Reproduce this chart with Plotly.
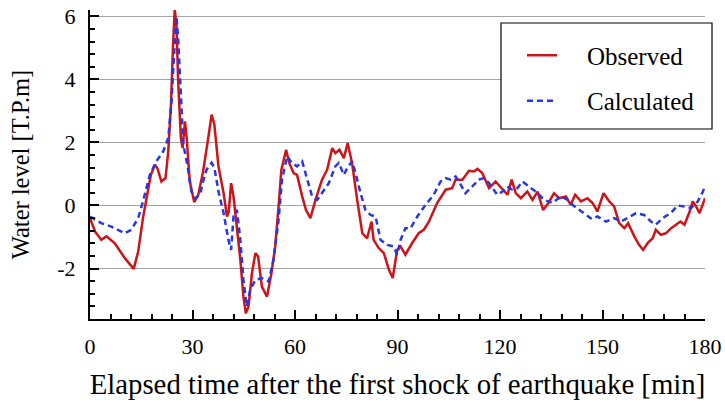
import plotly.graph_objects as go

# ---- data ----
obs_t = [0, 1.5, 3.3, 4.8, 7.2, 10.2, 12.8, 14.1, 15.5, 17.0, 17.8, 19.0, 19.7, 20.9, 22.1, 22.9,
         23.7, 24.3, 24.8, 25.3, 25.8, 26.6, 27.1, 27.8, 28.3, 29.2, 30.5, 31.7, 33.1, 34.6, 35.6,
         36.4, 37.6, 39.1, 40.1, 40.6, 41.3, 42.0, 43.0, 44.0, 44.9, 45.6, 46.4, 47.4, 48.4, 49.2,
         50.3, 51.8, 53.1, 54.2, 55.2, 56.0, 57.4, 58.3, 59.6, 60.6, 62.1, 63.2, 64.5, 66.0, 67.9,
         69.4, 70.9, 71.8, 73.0, 74.3, 75.4, 76.7, 78.2, 79.7, 81.1, 82.4, 83.0, 84.5, 86.0, 87.5,
         88.6, 89.9, 90.9, 92.3, 94.3, 96.2, 97.7, 99.2, 101.6, 104.1, 106.0, 107.0, 109.0, 110.9,
         112.4, 113.4, 114.8, 116.8, 118.7, 120.7, 122.2, 123.4, 124.6, 126.1, 128.0, 129.5, 131.0,
         132.6, 134.2, 135.8, 137.3, 139.3, 140.7, 142.0, 143.7, 145.6, 147.1, 148.5, 150.3, 152.0,
         153.4, 154.9, 156.4, 157.5, 159.3, 160.7, 161.9, 163.2, 164.7, 165.6, 167.1, 168.6, 170.1,
         171.5, 172.8, 174.0, 175.5, 176.4, 177.4, 178.4, 179.4, 180.0]
obs_v = [-0.4, -0.83, -1.09, -0.98, -1.19, -1.67, -2.01, -1.46, -0.4, 0.44, 0.97, 1.29, 1.19, 0.76, 0.87, 1.71,
         3.2, 5.1, 6.21, 5.74, 3.94, 2.14, 1.82, 2.67, 2.14, 0.76, 0.11, 0.34, 1.08, 2.14, 2.88,
         2.56, 1.24, 0.39, -0.35, -0.2, 0.71, 0.29, -0.67, -1.72, -2.89, -3.42, -3.2, -2.15, -1.51, -1.62,
         -2.57, -2.89, -2.15, -1.3, -0.03, 1.13, 1.77, 1.35, 1.03, 0.97, 0.29, -0.14, -0.4, 0.18, 0.82,
         1.13, 1.82, 1.66, 1.77, 1.5, 1.98, 1.35, 0.18, -0.88, -1.04, -0.51, -1.09, -1.35, -1.51, -2.04,
         -2.3, -1.41, -1.3, -1.56, -1.19, -0.88, -0.77, -0.51, 0.08, 0.5, 0.55, 0.82, 0.82, 1.1,
         1.08, 1.16, 1.03, 0.55, 0.76, 0.5, 0.34, 0.82, 0.39, 0.23, 0.44, 0.18, 0.44,
         -0.14, 0.08, 0.39, 0.23, 0.29, 0.02, 0.34, 0.13, 0.23, 0.08, -0.19, 0.39, 0.13,
         -0.03, -0.56, -0.72, -0.56, -0.98, -1.25, -1.41, -1.19, -1.04, -0.77, -0.93, -0.88, -0.72,
         -0.61, -0.51, -0.61, -0.19, 0.13, -0.03, -0.24, 0.02, 0.23]

calc_t = [0, 3.3, 6.2, 10.2, 12.1, 14.1, 15.5, 17.5, 19.4, 21.4, 22.9, 23.8, 24.6, 25.3, 25.8, 26.6,
          27.3, 28.5, 29.7, 30.7, 32.2, 33.1, 34.1, 35.6, 36.4, 37.7, 39.1, 40.5, 41.3, 42.0, 43.0,
          44.0, 44.9, 45.9, 46.9, 48.4, 50.3, 52.3, 53.7, 55.2, 56.2, 57.7, 59.1, 60.6, 62.1, 63.6,
          65.0, 66.5, 67.9, 69.9, 71.8, 72.8, 74.3, 75.3, 76.7, 77.7, 79.2, 80.6, 82.1, 83.6, 85.0,
          87.0, 88.9, 89.9, 90.9, 92.3, 93.8, 95.8, 98.2, 100.6, 102.6, 104.1, 105.5, 107.0, 108.5,
          109.9, 111.4, 113.8, 115.3, 116.8, 119.2, 120.7, 122.1, 123.6, 125.1, 126.6, 128.5, 130.5,
          132.9, 135.4, 137.8, 139.8, 141.2, 143.2, 145.1, 146.9, 148.5, 151.0, 153.4, 155.4, 157.3,
          159.8, 162.2, 164.2, 165.6, 167.6, 170.0, 172.0, 174.0, 175.9, 177.9, 179.4, 180.0]
calc_v = [-0.35, -0.56, -0.67, -0.88, -0.77, -0.4, 0.13, 0.97, 1.4, 1.71, 2.14, 3.2, 4.78, 6.0, 5.31, 3.73,
          1.93, 1.29, 0.44, 0.23, 0.34, 0.76, 1.13, 1.35, 1.19, 0.39, -0.24, -1.09, -1.41, -0.35, -0.14,
          -1.09, -2.36, -3.2, -2.68, -2.36, -2.3, -2.41, -1.72, -0.45, 0.82, 1.56, 1.35, 1.24, 1.4, 0.82,
          0.29, 0.18, 0.39, 0.71, 1.24, 1.35, 0.97, 1.19, 1.4, 1.03, 0.39, -0.14, -0.3, -0.35, -1.09,
          -1.25, -1.3, -1.56, -1.09, -0.72, -0.72, -0.35, 0.02, 0.34, 0.76, 0.87, 0.82, 0.92, 0.66,
          0.39, 0.55, 0.82, 0.87, 0.71, 0.34, 0.44, 0.6, 0.5, 0.55, 0.76, 0.6, 0.44,
          0.18, 0.08, 0.29, 0.18, 0.02, -0.14, -0.3, -0.43, -0.35, -0.51, -0.4, -0.51, -0.4,
          -0.24, -0.3, -0.51, -0.61, -0.4, -0.24, 0.0, -0.03, -0.08, 0.13, 0.44, 0.62]

x_ticks = [0, 30, 60, 90, 120, 150, 180]
y_ticks = [-2, 0, 2, 4, 6]
series_names = ["Observed", "Calculated"]
x_title = "Elapsed time after the first shock of earthquake [min]"
y_title = "Water level [T.P.m]"

FONT = "Liberation Serif"
NB = "\u00a0" * 4

fig = go.Figure()
fig.add_trace(go.Scatter(x=obs_t, y=obs_v, mode="lines", name=NB + series_names[0],
                         legendgroup="a",
                         line=dict(color="rgb(205,20,25)", width=2.5)))
fig.add_trace(go.Scatter(x=calc_t, y=calc_v, mode="lines", name=NB + series_names[1],
                         legendgroup="b",
                         line=dict(color="rgb(40,55,230)", width=2.5, dash="6px,4px")))

fig.add_shape(type="rect", xref="paper", yref="paper",
              x0=0.6683, x1=1.0114, y0=0.6149, y1=0.958,
              line=dict(color="black", width=1.2), fillcolor="white", layer="above")

fig.update_layout(
    width=725, height=410,
    margin=dict(l=90, r=20, t=10, b=91, autoexpand=False),
    paper_bgcolor="white", plot_bgcolor="white",
    font=dict(family=FONT, color="black", size=22),
    showlegend=True,
    legend=dict(x=0.7024, y=0.780, xanchor="left", yanchor="middle",
                bgcolor="rgba(0,0,0,0)", borderwidth=0,
                font=dict(family=FONT, size=25, color="black"),
                tracegroupgap=10),
    xaxis=dict(range=[0, 180], tickvals=x_ticks, ticktext=[str(v) for v in x_ticks],
               automargin=False, ticklabeloverflow="allow",
               showgrid=False, zeroline=False,
               showline=True, linecolor="black", linewidth=2,
               ticks="inside", ticklen=9, tickwidth=2, tickcolor="black",
               minor=dict(dtick=6, tick0=0, ticks="inside", ticklen=5, tickwidth=1.5,
                          tickcolor="black", showgrid=False),
               ticklabelstandoff=7,
               tickfont=dict(family=FONT, size=22, color="black"),
               title=dict(text=x_title, font=dict(family=FONT, size=28.8), standoff=15)),
    yaxis=dict(range=[-3.6, 6.2], tickvals=y_ticks, ticktext=[str(v) for v in y_ticks],
               automargin=False, ticklabeloverflow="allow",
               showgrid=True, gridcolor="rgb(165,165,165)", gridwidth=1.2,
               zeroline=False,
               showline=True, linecolor="black", linewidth=2,
               ticks="inside", ticklen=9, tickwidth=2, tickcolor="black",
               minor=dict(dtick=0.4, tick0=0, ticks="inside", ticklen=5, tickwidth=1.5,
                          tickcolor="black", showgrid=False),
               ticklabelstandoff=8,
               tickfont=dict(family=FONT, size=22, color="black"),
               title=dict(text=y_title, font=dict(family=FONT, size=24.5), standoff=21)),
)

# remove the default 8px page margin so the figure fills the 725x410 window exactly
fig.write_html("out.html", config={"displayModeBar": False},
               post_script="document.body.style.margin='0px';")
